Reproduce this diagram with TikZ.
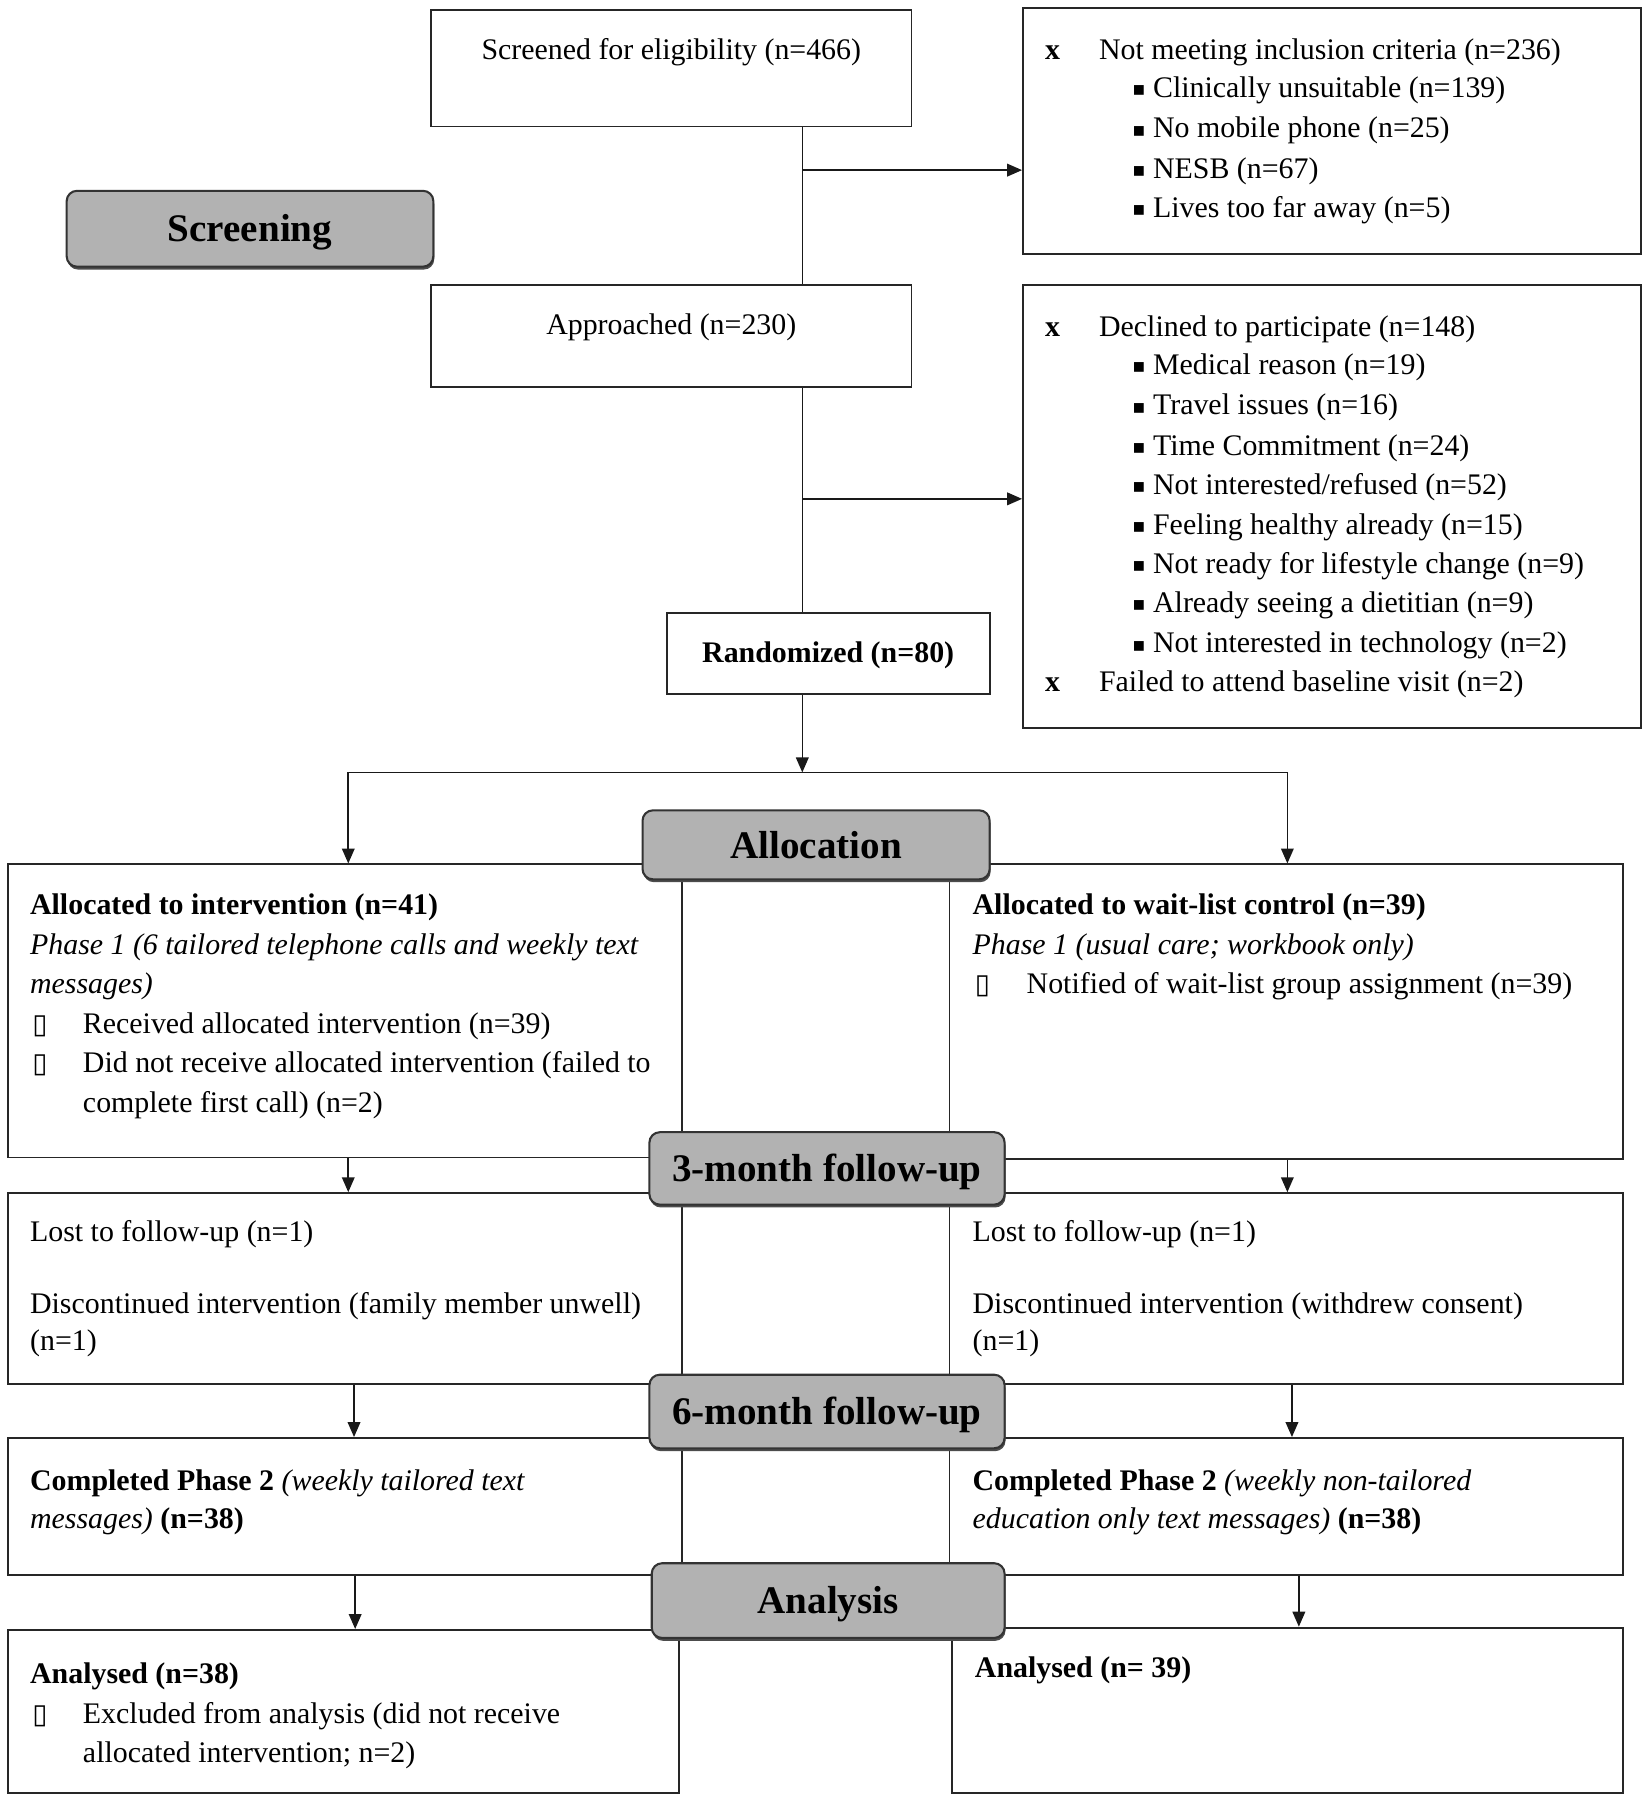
\documentclass[tikz,border=0pt]{standalone}
\usepackage{fontspec}
\setmainfont{Liberation Serif}
\newfontfamily\dejavu{DejaVu Sans}
\usetikzlibrary{arrows.meta,shadows}
\newcommand\bodyf{\fontsize{26pt}{34pt}\selectfont}
\newcommand\labf{\fontsize{34pt}{40pt}\selectfont\bfseries}
\newcommand\sqb{{\dejavu\fontsize{17pt}{17pt}\selectfont\raisebox{1.5pt}{▪}}}
\newcommand\opb{{\dejavu\fontsize{24pt}{24pt}\selectfont ▯}}
\begin{document}
\begin{tikzpicture}[x=1pt,y=-1pt,
  box/.style={draw=black!85, line width=1.6pt, fill=white, inner sep=0pt},
  lab/.style={draw=black!80, line width=1.8pt, fill=black!30, rounded corners=9pt, inner sep=0pt, font=\labf,
     text height=23pt, text depth=0pt,
     drop shadow={shadow xshift=0.8pt, shadow yshift=-2.5pt, fill=black!70, opacity=1}},
  tx/.style={anchor=base west, inner sep=0pt, font=\bodyf},
  tc/.style={anchor=base, inner sep=0pt, font=\bodyf},
  ln/.style={line width=1.4pt, draw=black!90},
  arr/.style={ln, -{Triangle[length=13pt,width=11pt]}}]
\useasboundingbox (0,0) rectangle (1432,1566);
\fill[white] (0,0) rectangle (1432,1566);

% boxes
\node[box, minimum width=418pt, minimum height=101pt] (scr) at (584,59.5) {};
\node[box, minimum width=538pt, minimum height=214pt] (exc1) at (1159,114) {};
\node[box, minimum width=418pt, minimum height=89pt] (appr) at (584,292.5) {};
\node[box, minimum width=538pt, minimum height=385pt] (exc2) at (1159,440.5) {};
\node[box, minimum width=281pt, minimum height=71pt] (rand) at (720.5,568.5) {};
\node[box, minimum width=586pt, minimum height=255pt] (L1) at (300,879.5) {};
\node[box, minimum width=586pt, minimum height=256pt] (R1) at (1119,880) {};
\node[box, minimum width=586pt, minimum height=166pt] (L2) at (300,1121) {};
\node[box, minimum width=586pt, minimum height=166pt] (R2) at (1119,1121) {};
\node[box, minimum width=586pt, minimum height=119pt] (L3) at (300,1310.5) {};
\node[box, minimum width=586pt, minimum height=119pt] (R3) at (1119,1310.5) {};
\node[box, minimum width=584pt, minimum height=142pt] (L4) at (299,1489) {};
\node[box, minimum width=584pt, minimum height=144pt] (R4) at (1120,1488) {};

% connectors
\coordinate (c1) at (698,148);
\coordinate (c2) at (698,434);
\coordinate (sp) at (698,672);
\coordinate (spl) at (303,672);
\coordinate (spr) at (1120,672);
\draw[ln] (scr.south -| c1) -- (appr.north -| c1);
\draw[arr] (c1) -- (c1 -| exc1.west);
\draw[ln] (appr.south -| c2) -- (rand.north -| c2);
\draw[arr] (c2) -- (c2 -| exc2.west);
\draw[arr] (rand.south -| sp) -- (sp);
\draw[ln] (spl) -- (spr);
\draw[arr] (spl) -- (spl |- L1.north);
\draw[arr] (spr) -- (spr |- R1.north);
\coordinate (a1) at (303,0);
\coordinate (b1) at (1120,0);
\coordinate (a2) at (308,0);
\coordinate (b2) at (1124,0);
\coordinate (a3) at (309,0);
\coordinate (b3) at (1130,0);
\draw[arr] (L1.south -| a1) -- (L2.north -| a1);
\draw[arr] (R1.south -| b1) -- (R2.north -| b1);
\draw[arr] (L2.south -| a2) -- (L3.north -| a2);
\draw[arr] (R2.south -| b2) -- (R3.north -| b2);
\draw[arr] (L3.south -| a3) -- (L4.north -| a3);
\draw[arr] (R3.south -| b3) -- (R4.north -| b3);

% section labels
\node[lab, minimum width=319pt, minimum height=66pt] (screening) at (217.5,199) {Screening};
\node[lab, minimum width=302pt, minimum height=60pt] (alloc) at (710,735) {Allocation};
\node[lab, minimum width=309pt, minimum height=63pt] (m3) at (719.5,1016.5) {3-month follow-up};
\node[lab, minimum width=309pt, minimum height=64pt] (m6) at (719.5,1228) {6-month follow-up};
\node[lab, minimum width=307pt, minimum height=65pt] (an) at (720.5,1392.5) {Analysis};

% texts top
\node[tc] (tscr) at (584,52) {Screened for eligibility (n=466)};
\node[tc] (tappr) at (584,291) {Approached (n=230)};
\node[tc, font=\bodyf\bfseries] (trand) at (720.5,576) {Randomized (n=80)};

% exclusion 1
\node[tx] (e1x) at (909,52) {\textbf{x}};
\node[tx] (e1t) at (956,52) {Not meeting inclusion criteria (n=236)};
\node[tx] (e1b1) at (985,85) {\sqb};
\node[tx] (e1t1) at (1003,85) {Clinically unsuitable (n=139)};
\node[tx] (e1b2) at (985,120) {\sqb};
\node[tx] (e1t2) at (1003,120) {No mobile phone (n=25)};
\node[tx] (e1b3) at (985,155) {\sqb};
\node[tx] (e1t3) at (1003,155) {NESB (n=67)};
\node[tx] (e1b4) at (985,189) {\sqb};
\node[tx] (e1t4) at (1003,189) {Lives too far away (n=5)};

% exclusion 2
\node[tx] (e2x) at (909,293) {\textbf{x}};
\node[tx] (e2t) at (956,293) {Declined to participate (n=148)};
\node[tx] (e2b1) at (985,326) {\sqb};
\node[tx] (e2t1) at (1003,326) {Medical reason (n=19)};
\node[tx] (e2b2) at (985,361) {\sqb};
\node[tx] (e2t2) at (1003,361) {Travel issues (n=16)};
\node[tx] (e2b3) at (985,396) {\sqb};
\node[tx] (e2t3) at (1003,396) {Time Commitment (n=24)};
\node[tx] (e2b4) at (985,430) {\sqb};
\node[tx] (e2t4) at (1003,430) {Not interested/refused (n=52)};
\node[tx] (e2b5) at (985,465) {\sqb};
\node[tx] (e2t5) at (1003,465) {Feeling healthy already (n=15)};
\node[tx] (e2b6) at (985,499) {\sqb};
\node[tx] (e2t6) at (1003,499) {Not ready for lifestyle change (n=9)};
\node[tx] (e2b7) at (985,533) {\sqb};
\node[tx] (e2t7) at (1003,533) {Already seeing a dietitian (n=9)};
\node[tx] (e2b8) at (985,568) {\sqb};
\node[tx] (e2t8) at (1003,568) {Not interested in technology (n=2)};
\node[tx] (e2y) at (909,602) {\textbf{x}};
\node[tx] (e2u) at (956,602) {Failed to attend baseline visit (n=2)};

% L1
\node[tx] (l1a) at (26,796) {\textbf{Allocated to intervention (n=41)}};
\node[tx] (l1b) at (26,830) {\textit{Phase 1 (6 tailored telephone calls and weekly text}};
\node[tx] (l1c) at (26,864) {\textit{messages)}};
\node[tx] (l1d) at (28,899) {\opb};
\node[tx] (l1e) at (72,899) {Received allocated intervention (n=39)};
\node[tx] (l1f) at (28,933) {\opb};
\node[tx] (l1g) at (72,933) {Did not receive allocated intervention (failed to};
\node[tx] (l1h) at (72,968) {complete first call) (n=2)};

% R1
\node[tx] (r1a) at (846,796) {\textbf{Allocated to wait-list control (n=39)}};
\node[tx] (r1b) at (846,830) {\textit{Phase 1 (usual care; workbook only)}};
\node[tx] (r1c) at (848,864) {\opb};
\node[tx] (r1d) at (893,864) {Notified of wait-list group assignment (n=39)};

% L2 / R2
\node[tx] (l2a) at (26,1080) {Lost to follow-up (n=1)};
\node[tx] (l2b) at (26,1143) {Discontinued intervention (family member unwell)};
\node[tx] (l2c) at (26,1175) {(n=1)};
\node[tx] (r2a) at (846,1080) {Lost to follow-up (n=1)};
\node[tx] (r2b) at (846,1143) {Discontinued intervention (withdrew consent)};
\node[tx] (r2c) at (846,1175) {(n=1)};

% L3 / R3
\node[tx] (l3a) at (26,1297) {\textbf{Completed Phase 2} \textit{(weekly tailored text}};
\node[tx] (l3b) at (26,1330) {\textit{messages)} \textbf{(n=38)}};
\node[tx] (r3a) at (846,1297) {\textbf{Completed Phase 2} \textit{(weekly non-tailored}};
\node[tx] (r3b) at (846,1330) {\textit{education only text messages)} \textbf{(n=38)}};

% L4 / R4
\node[tx] (l4a) at (26,1465) {\textbf{Analysed (n=38)}};
\node[tx] (l4b) at (28,1499) {\opb};
\node[tx] (l4c) at (72,1499) {Excluded from analysis (did not receive};
\node[tx] (l4d) at (72,1533) {allocated intervention; n=2)};
\node[tx] (r4a) at (848,1459) {\textbf{Analysed (n= 39)}};
\end{tikzpicture}
\end{document}
